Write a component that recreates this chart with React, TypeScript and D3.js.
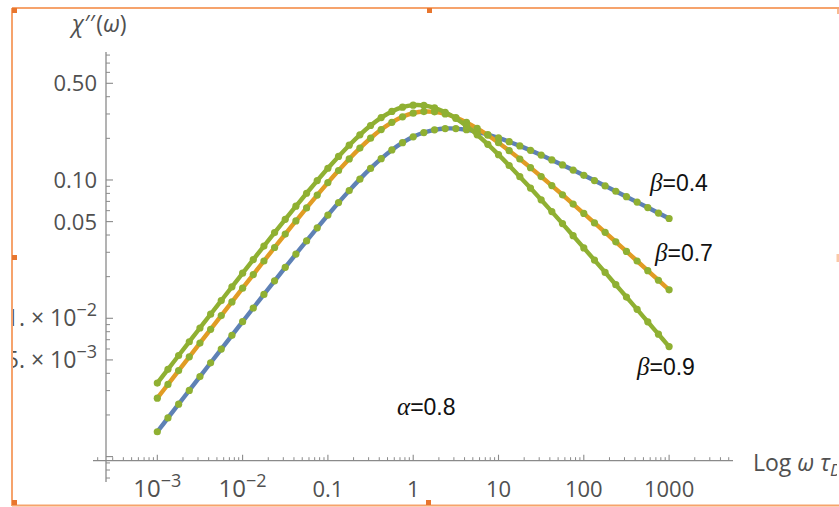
import React from "react";
import * as d3 from "d3";

// log10(ω τ_D) sample points (1/8 decade spacing)
const logOmega = [
  -3, -2.875, -2.75, -2.625, -2.5, -2.375, -2.25, -2.125, -2, -1.875, -1.75, -1.625, -1.5,
  -1.375, -1.25, -1.125, -1, -0.875, -0.75, -0.625, -0.5, -0.375, -0.25, -0.125, 0,
  0.125, 0.25, 0.375, 0.5, 0.625, 0.75, 0.875, 1, 1.125, 1.25, 1.375, 1.5, 1.625, 1.75,
  1.875, 2, 2.125, 2.25, 2.375, 2.5, 2.625, 2.75, 2.875, 3,
];

const chiBeta04 = [
  0.001512, 0.001903, 0.002394, 0.003011, 0.003788, 0.004763, 0.005988, 0.007525, 0.009452,
  0.01187, 0.01488, 0.01865, 0.02335, 0.02912, 0.03628, 0.04507, 0.05575, 0.06859, 0.08378,
  0.1014, 0.1212, 0.1426, 0.1648, 0.1861, 0.2051, 0.2203, 0.2305, 0.2354, 0.2353, 0.2309,
  0.2232, 0.2132, 0.2015, 0.1891, 0.1764, 0.1637, 0.1514, 0.1396, 0.1284, 0.1179, 0.1081,
  0.09905, 0.09061, 0.08286, 0.07573, 0.06918, 0.06318, 0.05768, 0.05265,
];

const chiBeta07 = [
  0.002645, 0.003328, 0.004187, 0.005266, 0.006622, 0.008326, 0.01046, 0.01314, 0.0165,
  0.0207, 0.02595, 0.03249, 0.04061, 0.05054, 0.06281, 0.07776, 0.09577, 0.1171, 0.142,
  0.17, 0.2004, 0.2315, 0.2611, 0.2863, 0.304, 0.3124, 0.3109, 0.3003, 0.2827, 0.2605,
  0.2358, 0.2105, 0.1859, 0.1629, 0.1418, 0.1228, 0.1059, 0.09108, 0.07815, 0.06696,
  0.05726, 0.04893, 0.04182, 0.03569, 0.03044, 0.02595, 0.02211, 0.01884, 0.01605,
];

const chiBeta09 = [
  0.0034, 0.004277, 0.005381, 0.006767, 0.008509, 0.0107, 0.01344, 0.01688, 0.02118,
  0.02657, 0.03328, 0.04164, 0.05197, 0.06461, 0.08016, 0.09901, 0.1216, 0.1481, 0.1785,
  0.2122, 0.2476, 0.2824, 0.3131, 0.3359, 0.3475, 0.3461, 0.3324, 0.3086, 0.2786, 0.2454,
  0.2122, 0.1809, 0.1525, 0.1273, 0.1057, 0.08736, 0.0719, 0.05905, 0.04836, 0.03954,
  0.03229, 0.02634, 0.02147, 0.01749, 0.01424, 0.0116, 0.009434, 0.007675, 0.006243,
];

const xTickValues = [1e-3, 1e-2, 0.1, 1, 10, 100, 1000];
const xTickLabels = [
  { base: "10", exp: "−3" },
  { base: "10", exp: "−2" },
  { base: "0.1", exp: "" },
  { base: "1", exp: "" },
  { base: "10", exp: "" },
  { base: "100", exp: "" },
  { base: "1000", exp: "" },
];
const yTickValues = [0.5, 0.1, 0.05, 0.01, 0.005, 0.001];
const yTickLabels = [
  { base: "0.50", exp: "" },
  { base: "0.10", exp: "" },
  { base: "0.05", exp: "" },
  { base: "1. × 10", exp: "−2" },
  { base: "5. × 10", exp: "−3" },
  { base: "", exp: "" },
];

const betaLabels = ["0.4", "0.7", "0.9"];
const alphaLabel = "0.8";

const W = 839;
const H = 507;

const COLORS = ["#5E81B5", "#E19C24", "#8FB032"];
const DOT = "#8FB032";
const AXIS = "#8a8a8a";
const TICKTEXT = "#505050";
const FONT = "'Open Sans', 'DejaVu Sans', sans-serif";

export default function App() {
  const x = d3.scaleLog().domain([1e-3, 1e3]).range([157.3, 669.1]);
  const y = d3.scaleLog().domain([1e-3, 0.5]).range([456.6, 83.3]);

  const xAxisY = 460.7;
  const xAxisL = 93;
  const xAxisR = 733;
  const yAxisX = 106;
  const yAxisT = 52;
  const yAxisB = 482;

  const series = [chiBeta04, chiBeta07, chiBeta09].map((vals, i) => ({
    color: COLORS[i],
    pts: vals.map((v, j) => [x(Math.pow(10, logOmega[j])), y(v)] as [number, number]),
  }));

  const line = d3
    .line<[number, number]>()
    .x((d) => d[0])
    .y((d) => d[1])
    .curve(d3.curveCatmullRom.alpha(0.5));

  const xMinor: number[] = [];
  for (let e = -4; e <= 3; e++) {
    for (let m = 2; m <= 9; m++) {
      const px = x(m * Math.pow(10, e));
      if (px > xAxisL + 2 && px < xAxisR) xMinor.push(px);
    }
  }
  const yMinor: number[] = [];
  for (let e = -4; e <= 0; e++) {
    for (let m = 2; m <= 9; m++) {
      const v = m * Math.pow(10, e);
      if (yTickValues.some((t) => Math.abs(t - v) < 1e-9)) continue;
      const py = y(v);
      if (py > yAxisT && py < yAxisB) yMinor.push(py);
    }
  }

  const border = "#F6A36C";
  const handle = "#E8762E";

  return (
    <svg
      width={W}
      height={H}
      style={{ position: "absolute", left: 0, top: 0, background: "#fff" }}
      fontFamily={FONT}
    >
      <defs>
        <clipPath id="frameClip">
          <rect x={13} y={9} width={824} height={495} />
        </clipPath>
      </defs>
      <rect x={0} y={0} width={W} height={H} fill="#fff" />

      <g clipPath="url(#frameClip)">
        {/* axes */}
        <line x1={xAxisL} x2={xAxisR} y1={xAxisY} y2={xAxisY} stroke={AXIS} strokeWidth={1.3} />
        <line x1={yAxisX} x2={yAxisX} y1={yAxisT} y2={yAxisB} stroke={AXIS} strokeWidth={1.3} />
        {xTickValues.map((v, i) => (
          <line key={"xt" + i} x1={x(v)} x2={x(v)} y1={xAxisY} y2={xAxisY - 6} stroke={AXIS} strokeWidth={1.1} />
        ))}
        {xMinor.map((px, i) => (
          <line key={"xm" + i} x1={px} x2={px} y1={xAxisY} y2={xAxisY - 3.5} stroke={AXIS} strokeWidth={1} />
        ))}
        {yTickValues.map((v, i) => (
          <line key={"yt" + i} x1={yAxisX} x2={yAxisX + 7} y1={y(v)} y2={y(v)} stroke={AXIS} strokeWidth={1.1} />
        ))}
        {yMinor.map((py, i) => (
          <line key={"ym" + i} x1={yAxisX} x2={yAxisX + 4} y1={py} y2={py} stroke={AXIS} strokeWidth={1} />
        ))}

        {/* tick labels */}
        {xTickValues.map((v, i) => (
          <text key={"xl" + i} x={x(v)} y={497} textAnchor="middle" fill={TICKTEXT} fontSize={22}>
            {xTickLabels[i].exp ? (
              <>
                <tspan fontSize={24}>{xTickLabels[i].base}</tspan>
                <tspan fontSize={18} dy={-10}>{xTickLabels[i].exp}</tspan>
              </>
            ) : (
              xTickLabels[i].base
            )}
          </text>
        ))}
        {yTickValues.map((v, i) =>
          yTickLabels[i].base ? (
            <text key={"yl" + i} x={97} y={y(v) + 8} textAnchor="end" fill={TICKTEXT} fontSize={22}>
              {yTickLabels[i].exp ? (
                <>
                  <tspan fontSize={23}>{yTickLabels[i].base}</tspan>
                  <tspan fontSize={18} dy={-10}>{yTickLabels[i].exp}</tspan>
                </>
              ) : (
                yTickLabels[i].base
              )}
            </text>
          ) : null
        )}

        {/* axis labels */}
        <text x={72} y={32} fill={TICKTEXT} fontSize={23}>
          <tspan fontStyle="italic">χ</tspan>
          <tspan dx={1} fontSize={23}>′′</tspan>
          <tspan dx={1}>(</tspan>
          <tspan fontStyle="italic">ω</tspan>
          <tspan>)</tspan>
        </text>
        <text x={753} y={471} fill={TICKTEXT} fontSize={23}>
          <tspan>Log </tspan>
          <tspan fontStyle="italic">ω</tspan>
          <tspan> </tspan>
          <tspan fontStyle="italic">τ</tspan>
          <tspan fontStyle="italic" fontSize={17} dy={5}>D</tspan>
        </text>

        {/* curves */}
        {series.map((s, i) => (
          <path key={"c" + i} d={line(s.pts) || ""} fill="none" stroke={s.color} strokeWidth={4.4} strokeLinejoin="round" strokeLinecap="round" />
        ))}
        {series.map((s, i) => (
          <g key={"d" + i}>
            {s.pts.map((p, j) => (
              <circle key={j} cx={p[0]} cy={p[1]} r={3.6} fill={DOT} />
            ))}
          </g>
        ))}

        {/* annotations */}
        {[
          { lx: 650, ly: 191 },
          { lx: 655, ly: 261 },
          { lx: 637, ly: 375 },
        ].map((pos, i) => (
          <text key={"b" + i} x={pos.lx} y={pos.ly} fill="#111" fontSize={23} fontFamily="'Liberation Sans', Arial, sans-serif">
            <tspan fontFamily="'Liberation Serif', serif" fontStyle="italic" fontSize={25}>β</tspan>
            <tspan>={betaLabels[i]}</tspan>
          </text>
        ))}
        <text x={397} y={415} fill="#111" fontSize={23} fontFamily="'Liberation Sans', Arial, sans-serif">
          <tspan fontFamily="'Liberation Serif', serif" fontStyle="italic" fontSize={25}>α</tspan>
          <tspan>={alphaLabel}</tspan>
        </text>
      </g>

      {/* selection frame */}
      <line x1={12} x2={839} y1={8} y2={8} stroke={border} strokeWidth={2} />
      <line x1={12} x2={12} y1={8} y2={506} stroke={border} strokeWidth={2} />
      <line x1={12} x2={839} y1={505.5} y2={505.5} stroke={border} strokeWidth={2} />
      <line x1={838} x2={838} y1={8} y2={14} stroke={border} strokeWidth={1.5} />
      <rect x={836.5} y={254} width={2.5} height={8} fill="#FBC9A8" />
      {[
        [12, 8],
        [427, 8],
        [12, 255],
        [12, 500],
        [426, 500],
      ].map((p, i) => (
        <rect key={"h" + i} x={p[0]} y={p[1]} width={5} height={5} fill={handle} />
      ))}
    </svg>
  );
}
